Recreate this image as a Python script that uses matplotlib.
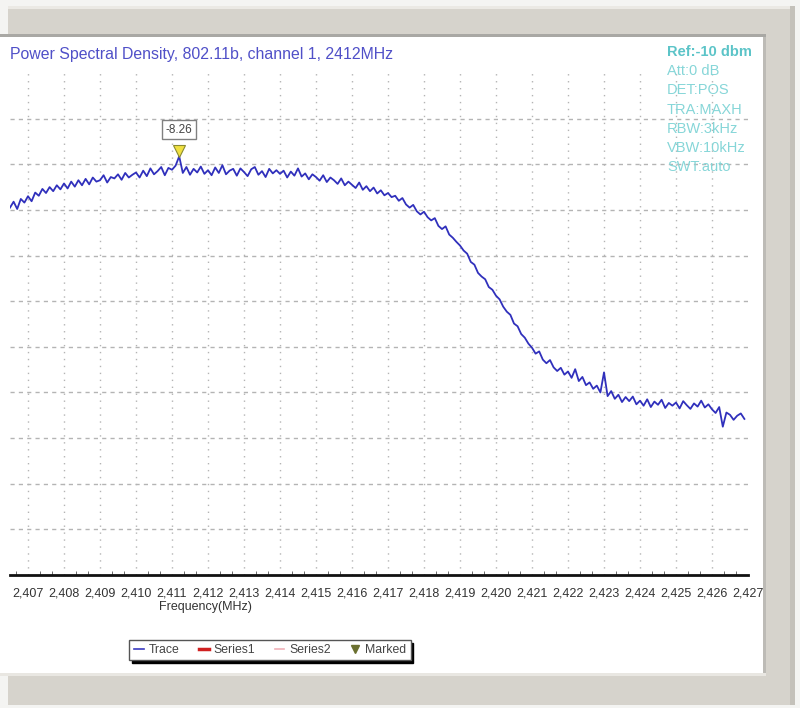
import numpy as np
import matplotlib.pyplot as plt
import matplotlib.transforms as mtrans
from matplotlib.patches import Rectangle
from matplotlib.lines import Line2D
from matplotlib.ticker import MultipleLocator

plt.rcParams['font.family'] = ['Liberation Sans', 'DejaVu Sans']

# ---- data ----
f_start, f_stop = 2406.5, 2426.9          # MHz, sweep shown
trace_dbm = [
    -19.5, -18.2, -19.8, -17.6, -18.4,
    -17.0, -18.1, -16.2, -16.9, -15.4, -16.3, -15.0, -15.9, -14.6, -15.5,
    -14.2, -15.3, -13.8, -14.9, -13.5, -14.6, -13.2, -14.4, -12.9, -13.8,
    -13.5, -12.4, -14.0, -12.8, -13.1, -12.2, -13.4, -11.9, -12.9, -12.3,
    -11.8, -12.9, -11.4, -12.6, -10.9, -12.2, -11.5, -10.6, -12.4, -10.8,
    -11.2, -10.3, -8.26, -11.9, -10.6, -12.3, -11.0, -11.8, -10.5, -12.1,
    -11.3, -12.4, -10.7, -11.9, -10.2, -12.2, -11.4, -11.0, -12.5, -10.9,
    -11.7, -12.6, -11.1, -10.6, -12.3, -11.5, -12.8, -11.0, -12.0, -11.3,
    -12.1, -11.4, -12.9, -11.6, -12.5, -10.9, -12.7, -12.0, -13.3, -12.2,
    -12.8, -13.6, -12.4, -13.9, -12.9, -13.5, -14.3, -13.1, -14.6, -13.8,
    -14.5, -15.2, -14.0, -15.6, -14.8, -15.9, -15.1, -16.4, -15.7, -16.8,
    -16.3, -17.2, -16.9, -18.0, -17.4, -18.8, -19.5, -18.9, -20.3, -21.0,
    -20.4, -21.6, -22.3, -21.8, -23.5, -24.2, -23.6, -25.4, -26.1, -27.0,
    -27.8, -28.9, -29.6, -31.4, -32.0, -33.8, -34.6, -35.2, -36.9, -37.5,
    -38.8, -39.6, -41.2, -42.3, -43.0, -44.9, -45.5, -47.2, -48.0, -49.3,
    -50.2, -51.5, -51.0, -52.8, -53.6, -52.9, -54.5, -55.3, -54.6, -56.1,
    -55.4, -56.8, -54.9, -57.5, -56.6, -58.4, -57.8, -59.2, -58.5, -60.0,
    -55.6, -60.8, -59.7, -61.4, -60.5, -62.1, -61.0, -61.9, -60.9, -62.6,
    -61.8, -62.9, -61.5, -63.2, -62.0, -62.7, -61.6, -63.4, -62.3, -62.9,
    -62.2, -63.5, -61.9, -62.8, -63.6, -62.4, -63.1, -61.8, -63.3, -62.6,
    -63.7, -64.5, -63.2, -67.5, -64.4, -64.9, -66.0, -65.1, -64.6, -65.8,
]
freq = np.linspace(f_start, f_stop, len(trace_dbm))

marker_value = '-8.26'
tick_mhz = list(range(2407, 2428))
tick_labels = ['2,%03d' % (m - 2000) for m in tick_mhz]

title = 'Power Spectral Density, 802.11b, channel 1, 2412MHz'
info_lines = ['Ref:-10 dbm', 'Att:0 dB', 'DET:POS', 'TRA:MAXH',
              'RBW:3kHz', 'VBW:10kHz', 'SWT:auto']
legend_names = ['Trace', 'Series1', 'Series2', 'Marked']

# ---- figure / window frame ----
W, H = 800, 708


def fx(x):
    return x / W


def fy(y):
    return 1 - y / H


fig = plt.figure(figsize=(8, 7.08), dpi=100)
fig.patch.set_facecolor('#f4f4f2')


def box(x0, y0, x1, y1, color, z=0):
    fig.add_artist(Rectangle((fx(x0), fy(y1)), fx(x1) - fx(x0), fy(y0) - fy(y1),
                             transform=fig.transFigure, fc=color, ec='none', zorder=z))


box(8, 6, 795, 705, '#d6d3cc')
box(8, 6, 795, 9, '#ebe9e4')
box(0, 34, 766, 37, '#a9a8a4')
box(763, 37, 766, 676, '#bdbbb6')
box(0, 673, 766, 676, '#e9e7e2')
box(0, 37, 763, 673, 'white')
box(790, 6, 795, 705, '#c4c1ba')

# ---- plot area ----
ax = fig.add_axes([fx(10), fy(575), fx(748) - fx(10), fy(73) - fy(575)])
ax.set_facecolor('white')
ax.set_xlim(f_start, 2427)
ax.set_ylim(-100, 10)

for v in tick_mhz[:-1]:
    ax.axvline(v, color='#b4b4b4', lw=1, ls=(0, (1, 4)), zorder=1)
for lvl in range(-90, 10, 10):
    ax.axhline(lvl, color='#b4b4b4', lw=1, ls=(0, (3, 3)), zorder=1)

ax.plot(freq, trace_dbm, color='#3030bc', lw=1.3, zorder=3)

# marker on the peak
i_pk = int(np.argmax(trace_dbm))
mk_tr = mtrans.offset_copy(ax.transData, fig=fig, x=0, y=4, units='points')
ax.plot(freq[i_pk], trace_dbm[i_pk], marker='v', ms=8, mfc='#f0e040',
        mec='#8a8a30', mew=0.8, transform=mk_tr, zorder=5, clip_on=False)
ax.annotate(marker_value, xy=(freq[i_pk], trace_dbm[i_pk]), xytext=(0, 19),
            textcoords='offset points', ha='center', va='center',
            fontsize=8.5, color='#444444',
            bbox=dict(boxstyle='square,pad=0.3', fc='white', ec='#808080', lw=1))

for s in ['top', 'right', 'left']:
    ax.spines[s].set_visible(False)
ax.spines['bottom'].set_linewidth(2)
ax.spines['bottom'].set_color('#111111')

ax.set_xticks(tick_mhz)
ax.set_xticklabels(tick_labels, fontsize=9, color='#333333')
ax.xaxis.set_minor_locator(MultipleLocator(1 / 3))
ax.tick_params(axis='x', which='major', length=0, pad=9)
ax.tick_params(axis='x', which='minor', direction='in', length=3, color='#555555')
ax.set_yticks([])

fig.text(fx(205), fy(607), 'Frequency(MHz)', ha='center', va='center',
         fontsize=9, color='#333333')

fig.text(fx(10), fy(55), title, ha='left', va='center', fontsize=11.4,
         color='#5050c8')

for k, line in enumerate(info_lines):
    fig.text(fx(667), fy(52 + 19.2 * k), line, ha='left', va='center',
             fontsize=10.5, color='#5cc4c8' if k == 0 else '#86d6d8',
             fontweight='bold' if k == 0 else 'normal')

handles = [
    Line2D([], [], color='#3a3ac0', lw=1.2),
    Line2D([], [], color='#d02020', lw=2.5),
    Line2D([], [], color='#f0b0b8', lw=1.2),
    Line2D([], [], ls='none', marker='v', ms=6, mfc='#6b7030', mec='#6b7030'),
]
leg = fig.legend(handles, legend_names, ncol=4, loc='center',
                 bbox_to_anchor=(fx(270), fy(650)), fontsize=8.8,
                 handlelength=0.8, handletextpad=0.4, columnspacing=1.6,
                 borderpad=0.35, fancybox=False, framealpha=1,
                 edgecolor='#555555', shadow={'color': 'black', 'alpha': 1})
leg.get_frame().set_linewidth(1)
for t in leg.get_texts():
    t.set_color('#444444')

fig.savefig('out.png', dpi=100, facecolor=fig.get_facecolor())
